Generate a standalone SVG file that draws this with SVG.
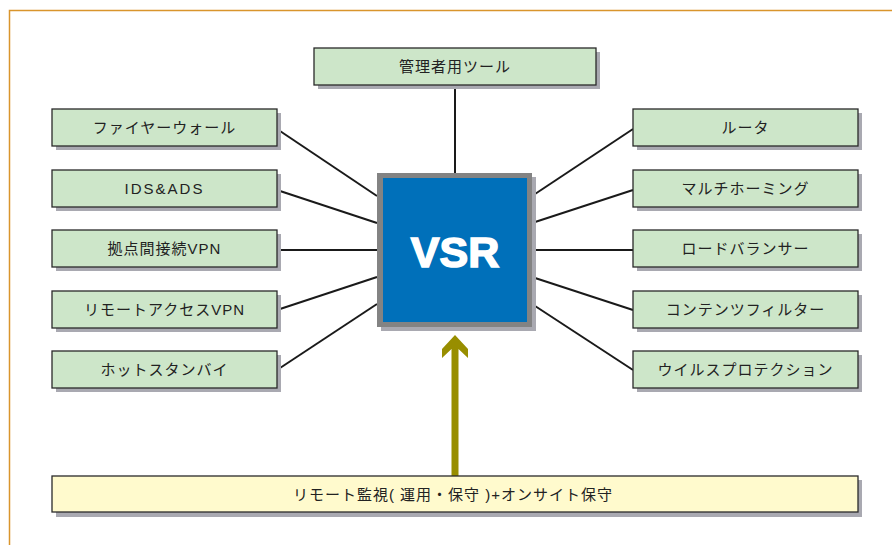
<svg xmlns="http://www.w3.org/2000/svg" width="892" height="545" viewBox="0 0 892 545">
<style>
.sh{fill:#a9a9b1}
.bx{fill:#cde6c9;stroke:#2a2a2a;stroke-width:1.3}
.yb{fill:#fffacd;stroke:#2a2a2a;stroke-width:1.3}
.t{font-family:"Liberation Sans","Noto Sans CJK JP",sans-serif;font-size:15px;fill:#222;text-anchor:middle;letter-spacing:1px}
.ln{stroke:#1a1a1a;stroke-width:2;fill:none}
</style>
<rect x="0" y="0" width="892" height="545" fill="#ffffff"/>
<path d="M9.5,545 V10.5 H892" fill="none" stroke="#d9952c" stroke-width="1.5"/>
<g id="connectors">
<line class="ln" x1="455" y1="85" x2="455" y2="173"/>
<line class="ln" x1="277" y1="129" x2="377" y2="196"/>
<line class="ln" x1="277" y1="190" x2="377" y2="223"/>
<line class="ln" x1="277" y1="250" x2="377" y2="250"/>
<line class="ln" x1="277" y1="310" x2="377" y2="277"/>
<line class="ln" x1="277" y1="370" x2="377" y2="304"/>
<line class="ln" x1="633" y1="129" x2="532" y2="196"/>
<line class="ln" x1="633" y1="190" x2="532" y2="223"/>
<line class="ln" x1="633" y1="250" x2="532" y2="250"/>
<line class="ln" x1="633" y1="310" x2="532" y2="277"/>
<line class="ln" x1="633" y1="370" x2="532" y2="304"/>
<path d="M455,335 L468,349 L468,358 L458.5,349 L458.5,476 L451.5,476 L451.5,349 L442,358 L442,349 Z" fill="#988e00"/>
</g>
<g id="vsr">
<rect x="381" y="177" width="155" height="154" fill="#a9a9b1"/>
<rect x="377" y="173" width="155" height="154" fill="#838383"/>
<rect x="383" y="178" width="144" height="144" fill="#0070ba"/>
<text x="455" y="267" font-family="Liberation Sans,Arial,sans-serif" font-weight="bold" font-size="43" fill="#ffffff" stroke="#ffffff" stroke-width="1.6" text-anchor="middle">VSR</text>
</g>
<g id="kanri">
<rect class="sh" x="318" y="52" width="282" height="37"/>
<rect class="bx" x="314" y="48" width="282" height="37"/>
<text class="t" x="455" y="72">管理者用ツール</text>
</g>
<g id="firewall">
<rect class="sh" x="56" y="113" width="225" height="37"/>
<rect class="bx" x="52" y="109" width="225" height="37"/>
<text class="t" x="164.5" y="133">ファイヤーウォール</text>
</g>
<g id="ids">
<rect class="sh" x="56" y="174" width="225" height="37"/>
<rect class="bx" x="52" y="170" width="225" height="37"/>
<text class="t" x="164.5" y="194" style="letter-spacing:2px">IDS&amp;ADS</text>
</g>
<g id="kyoten">
<rect class="sh" x="56" y="234" width="225" height="37"/>
<rect class="bx" x="52" y="230" width="225" height="37"/>
<text class="t" x="164.5" y="254">拠点間接続VPN</text>
</g>
<g id="remoteaccess">
<rect class="sh" x="56" y="295" width="225" height="37"/>
<rect class="bx" x="52" y="291" width="225" height="37"/>
<text class="t" x="164.5" y="315">リモートアクセスVPN</text>
</g>
<g id="hotstandby">
<rect class="sh" x="56" y="355" width="225" height="37"/>
<rect class="bx" x="52" y="351" width="225" height="37"/>
<text class="t" x="164.5" y="375">ホットスタンバイ</text>
</g>
<g id="router">
<rect class="sh" x="637" y="113" width="225" height="37"/>
<rect class="bx" x="633" y="109" width="225" height="37"/>
<text class="t" x="745.5" y="133">ルータ</text>
</g>
<g id="multihoming">
<rect class="sh" x="637" y="174" width="225" height="37"/>
<rect class="bx" x="633" y="170" width="225" height="37"/>
<text class="t" x="745.5" y="194">マルチホーミング</text>
</g>
<g id="loadbalancer">
<rect class="sh" x="637" y="234" width="225" height="37"/>
<rect class="bx" x="633" y="230" width="225" height="37"/>
<text class="t" x="745.5" y="254">ロードバランサー</text>
</g>
<g id="contentfilter">
<rect class="sh" x="637" y="295" width="225" height="37"/>
<rect class="bx" x="633" y="291" width="225" height="37"/>
<text class="t" x="745.5" y="315">コンテンツフィルター</text>
</g>
<g id="virus">
<rect class="sh" x="637" y="355" width="225" height="37"/>
<rect class="bx" x="633" y="351" width="225" height="37"/>
<text class="t" x="745.5" y="375">ウイルスプロテクション</text>
</g>
<g id="remote">
<rect class="sh" x="56" y="480" width="806" height="37"/>
<rect class="yb" x="52" y="476" width="806" height="36"/>
<text class="t" x="453" y="500" style="letter-spacing:1px">リモート監視( 運用・保守 )+オンサイト保守</text>
</g>
</svg>
